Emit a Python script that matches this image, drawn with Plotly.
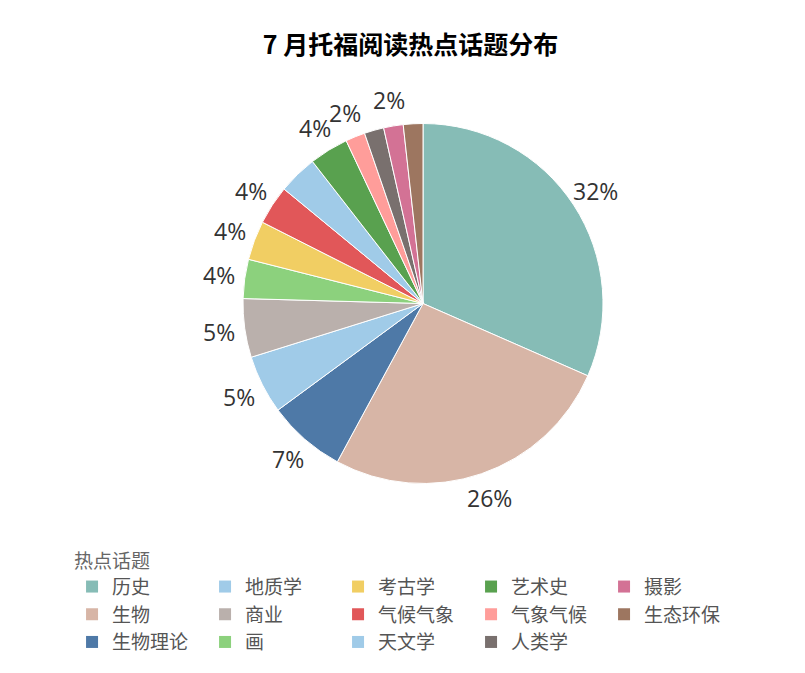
import math
import plotly.graph_objects as go

# slice order (clockwise from 12 o'clock)
topics = ["历史", "生物", "生物理论", "地质学", "商业", "画", "考古学",
          "气候气象", "天文学", "艺术史", "气象气候", "人类学", "摄影", "生态环保"]
counts = [18, 15, 4, 3, 3, 2, 2, 2, 2, 2, 1, 1, 1, 1]
colors = ["#86bcb6", "#d7b5a6", "#4e79a7", "#a0cbe8", "#bab0ac", "#8cd17d", "#f1ce63",
          "#e15759", "#a0cbe8", "#59a14f", "#ff9d9a", "#79706e", "#d37295", "#9d7660"]
# labels hidden where they would crowd each other
show_label = [True, True, True, True, True, True, True,
              True, False, True, True, False, True, False]

# legend reads row by row
legend_order = ["历史", "地质学", "考古学", "艺术史", "摄影",
                "生物", "商业", "气候气象", "气象气候", "生态环保",
                "生物理论", "画", "天文学", "人类学"]

W, H = 805, 673
# pie box in pixels (left, right, top, bottom)
px_l, px_r, px_t, px_b = 235, 595, 115, 476
cx, cy = (px_l + px_r) / 2, (px_t + px_b) / 2
label_r = 206

fig = go.Figure()
fig.add_trace(go.Pie(
    labels=topics, values=counts, sort=False, direction="clockwise", rotation=0,
    marker=dict(colors=colors, line=dict(color="white", width=1)),
    textinfo="none", showlegend=False, hoverinfo="label+percent",
    domain=dict(x=[px_l / W, px_r / W], y=[1 - px_b / H, 1 - px_t / H]),
))

# percentage labels just outside the middle of each slice
total = sum(counts)
cum = 0
for n, show in zip(counts, show_label):
    mid = (cum + n / 2) / total * 2 * math.pi
    cum += n
    if not show:
        continue
    fig.add_annotation(
        x=(cx + label_r * math.sin(mid)) / W, y=1 - (cy - label_r * math.cos(mid)) / H,
        xref="paper", yref="paper", showarrow=False,
        text=f"{n / total:.0%}", xanchor="center", yanchor="middle",
        font=dict(family="Open Sans, Lato, sans-serif", size=23, color="#333333"),
    )

col = dict(zip(topics, colors))
for t in legend_order:
    fig.add_trace(go.Scatter(
        x=[None], y=[None], mode="markers", name=t,
        marker=dict(symbol="square", size=15, color=col[t]),
    ))

fig.update_layout(
    width=W, height=H,
    margin=dict(l=0, r=0, t=0, b=0),
    paper_bgcolor="white", plot_bgcolor="white",
    title=dict(text="<b>7 月托福阅读热点话题分布</b>", x=0.5, xanchor="center", y=1 - 37 / H, yanchor="middle",
               font=dict(family="Noto Sans CJK SC, sans-serif", size=25, color="#000000")),
    xaxis=dict(visible=False), yaxis=dict(visible=False),
    legend=dict(
        orientation="h", x=78 / W, xanchor="left", y=1 - 535 / H, yanchor="top",
        entrywidth=88, entrywidthmode="pixels", itemsizing="constant",
        title=dict(text="热点话题", side="top", font=dict(size=19, color="#666666")),
        font=dict(family="Noto Sans CJK SC, sans-serif", size=19, color="#555555"),
        tracegroupgap=0, traceorder="normal",
    ),
)

fig.write_html("out.html")
